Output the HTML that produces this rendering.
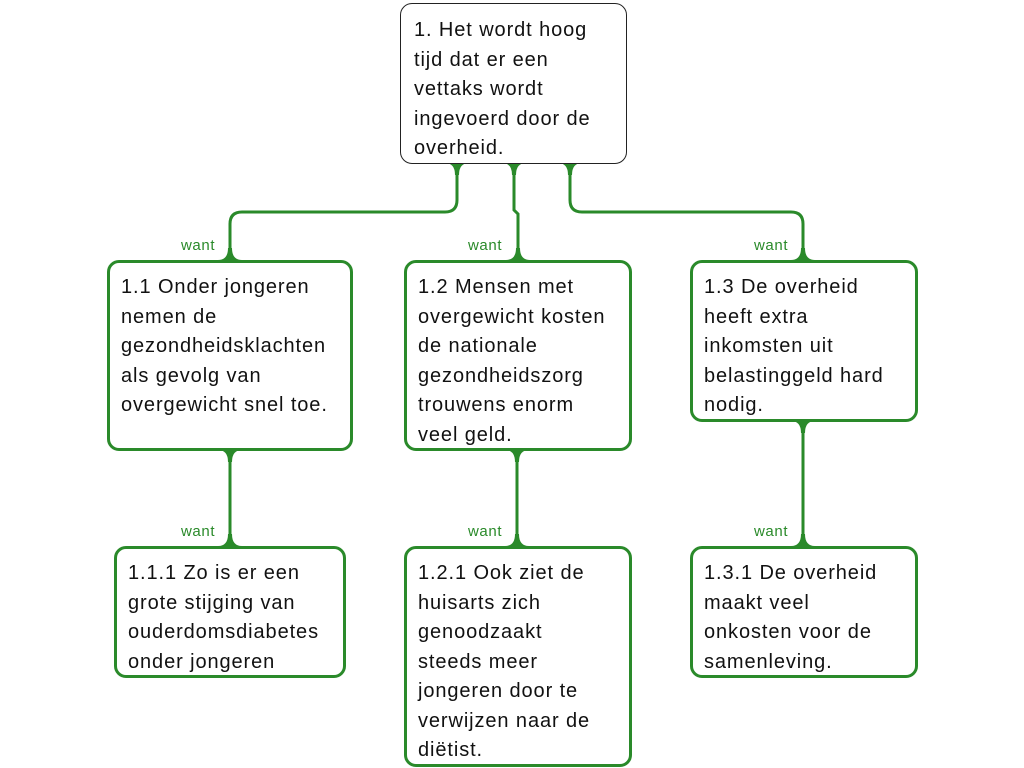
<!DOCTYPE html>
<html><head><meta charset="utf-8"><style>
body{margin:0;width:1024px;height:768px;background:#fff;position:relative;overflow:hidden;font-family:"Liberation Sans",Arial,sans-serif}
.b{position:absolute;box-sizing:border-box;border:3px solid #2a8a2a;border-radius:12px;background:#fff;font-size:20px;letter-spacing:0.9px;line-height:29.5px;color:#111;padding:10px 0 0 11px;white-space:nowrap}
.r{border:1px solid #222;padding:12px 0 0 13px}
.w{position:absolute;font-size:15px;letter-spacing:0.6px;color:#2a8a2a}
svg{position:absolute;left:0;top:0}
</style></head><body>
<svg width="1024" height="768">
<g fill="none" stroke="#2a8a2a" stroke-width="3">
<path d="M457 163 V200 Q457 212 445 212 H242 Q230 212 230 224 V260"/>
<path d="M514 163 V210 L518 214 V260"/>
<path d="M570 163 V200 Q570 212 582 212 H791 Q803 212 803 224 V260"/>
<path d="M230 450 V546"/>
<path d="M517 450 V546"/>
<path d="M803 421 V546"/>
</g>
<g fill="#2a8a2a">
<path d="M445 163 Q455 163 455 175 L459 175 Q459 163 469 163Z"/>
<path d="M502 163 Q512 163 512 175 L516 175 Q516 163 526 163Z"/>
<path d="M558 163 Q568 163 568 175 L572 175 Q572 163 582 163Z"/>
<path d="M218 260 Q228 260 228 248 L232 248 Q232 260 242 260Z"/>
<path d="M506 260 Q516 260 516 248 L520 248 Q520 260 530 260Z"/>
<path d="M791 260 Q801 260 801 248 L805 248 Q805 260 815 260Z"/>
<path d="M218 450 Q228 450 228 462 L232 462 Q232 450 242 450Z"/>
<path d="M505 450 Q515 450 515 462 L519 462 Q519 450 529 450Z"/>
<path d="M791 421 Q801 421 801 433 L805 433 Q805 421 815 421Z"/>
<path d="M218 546 Q228 546 228 534 L232 534 Q232 546 242 546Z"/>
<path d="M505 546 Q515 546 515 534 L519 534 Q519 546 529 546Z"/>
<path d="M791 546 Q801 546 801 534 L805 534 Q805 546 815 546Z"/>
</g>
</svg>
<div class="b r" style="left:400px;top:3px;width:227px;height:161px">1. Het wordt hoog<br>tijd dat er een<br>vettaks wordt<br>ingevoerd door de<br>overheid.</div>
<div class="b" style="left:107px;top:260px;width:246px;height:191px">1.1 Onder jongeren<br>nemen de<br>gezondheidsklachten<br>als gevolg van<br>overgewicht snel toe.</div>
<div class="b" style="left:404px;top:260px;width:228px;height:191px">1.2 Mensen met<br>overgewicht kosten<br>de nationale<br>gezondheidszorg<br>trouwens enorm<br>veel geld.</div>
<div class="b" style="left:690px;top:260px;width:228px;height:162px">1.3 De overheid<br>heeft extra<br>inkomsten uit<br>belastinggeld hard<br>nodig.</div>
<div class="b" style="left:114px;top:546px;width:232px;height:132px">1.1.1 Zo is er een<br>grote stijging van<br>ouderdomsdiabetes<br>onder jongeren</div>
<div class="b" style="left:404px;top:546px;width:228px;height:221px">1.2.1 Ook ziet de<br>huisarts zich<br>genoodzaakt<br>steeds meer<br>jongeren door te<br>verwijzen naar de<br>diëtist.</div>
<div class="b" style="left:690px;top:546px;width:228px;height:132px">1.3.1 De overheid<br>maakt veel<br>onkosten voor de<br>samenleving.</div>
<div class="w" style="left:181px;top:237px">want</div>
<div class="w" style="left:468px;top:237px">want</div>
<div class="w" style="left:754px;top:237px">want</div>
<div class="w" style="left:181px;top:523px">want</div>
<div class="w" style="left:468px;top:523px">want</div>
<div class="w" style="left:754px;top:523px">want</div>
</body></html>
